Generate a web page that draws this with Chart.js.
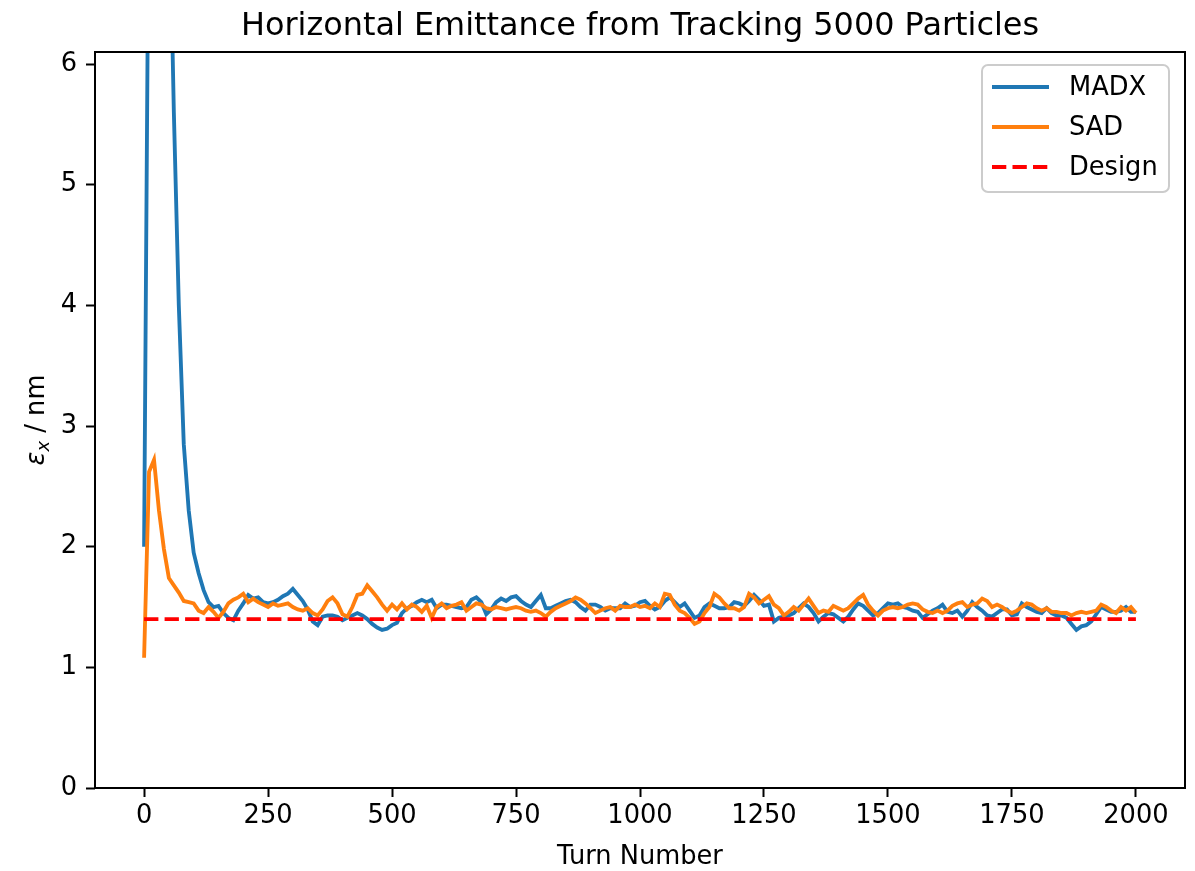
<!DOCTYPE html>
<html><head><meta charset="utf-8">
<script src="https://cdn.jsdelivr.net/npm/chart.js@4.4.1/dist/chart.umd.min.js"></script>
<style>html,body{margin:0;padding:0;background:#fff;}canvas{display:block;}</style>
</head><body>
<canvas id="c" width="1195" height="871"></canvas>
<script>
const turns = [
0,10,20,30,40,50,60,70,80,90,
100,110,120,130,140,150,160,170,180,190,
200,210,220,230,240,250,260,270,280,290,
300,310,320,330,340,350,360,370,380,390,
400,410,420,430,440,450,460,470,480,490,
500,510,520,530,540,550,560,570,580,590,
600,610,620,630,640,650,660,670,680,690,
700,710,720,730,740,750,760,770,780,790,
800,810,820,830,840,850,860,870,880,890,
900,910,920,930,940,950,960,970,980,990,
1000,1010,1020,1030,1040,1050,1060,1070,1080,1090,
1100,1110,1120,1130,1140,1150,1160,1170,1180,1190,
1200,1210,1220,1230,1240,1250,1260,1270,1280,1290,
1300,1310,1320,1330,1340,1350,1360,1370,1380,1390,
1400,1410,1420,1430,1440,1450,1460,1470,1480,1490,
1500,1510,1520,1530,1540,1550,1560,1570,1580,1590,
1600,1610,1620,1630,1640,1650,1660,1670,1680,1690,
1700,1710,1720,1730,1740,1750,1760,1770,1780,1790,
1800,1810,1820,1830,1840,1850,1860,1870,1880,1890,
1900,1910,1920,1930,1940,1950,1960,1970,1980,1990,
2000];

const madx = [
2.00,7.90,14.0,13.0,10.5,7.60,5.60,4.00,2.85,2.30,
1.95,1.78,1.64,1.54,1.50,1.51,1.45,1.41,1.39,1.47,
1.53,1.60,1.57,1.58,1.54,1.53,1.54,1.56,1.59,1.61,
1.65,1.60,1.55,1.48,1.38,1.35,1.42,1.43,1.43,1.42,
1.39,1.41,1.43,1.45,1.43,1.40,1.36,1.33,1.31,1.32,
1.35,1.37,1.45,1.49,1.51,1.54,1.56,1.54,1.56,1.49,
1.52,1.52,1.51,1.50,1.49,1.50,1.56,1.58,1.54,1.44,
1.48,1.54,1.57,1.55,1.58,1.59,1.55,1.52,1.50,1.55,
1.60,1.49,1.49,1.51,1.53,1.55,1.56,1.54,1.50,1.47,
1.52,1.52,1.50,1.47,1.49,1.49,1.49,1.53,1.50,1.51,
1.54,1.55,1.51,1.48,1.50,1.55,1.58,1.54,1.50,1.53,
1.47,1.41,1.43,1.50,1.53,1.51,1.49,1.49,1.50,1.54,
1.53,1.51,1.55,1.60,1.56,1.51,1.52,1.38,1.41,1.42,
1.43,1.45,1.49,1.53,1.50,1.45,1.38,1.42,1.45,1.44,
1.41,1.38,1.42,1.48,1.53,1.51,1.47,1.43,1.45,1.49,
1.53,1.52,1.53,1.50,1.49,1.47,1.46,1.41,1.44,1.47,
1.49,1.52,1.46,1.45,1.47,1.42,1.47,1.54,1.50,1.47,
1.43,1.42,1.45,1.48,1.48,1.43,1.44,1.53,1.50,1.48,
1.46,1.45,1.49,1.45,1.43,1.43,1.41,1.36,1.31,1.34,
1.35,1.38,1.44,1.50,1.48,1.46,1.46,1.47,1.50,1.46,
1.46];

const sad = [
1.08,2.62,2.72,2.30,1.98,1.74,1.68,1.62,1.55,1.54,
1.53,1.47,1.45,1.50,1.46,1.41,1.46,1.53,1.56,1.58,
1.61,1.54,1.57,1.54,1.52,1.50,1.53,1.51,1.52,1.53,
1.50,1.48,1.47,1.49,1.45,1.43,1.48,1.55,1.58,1.53,
1.44,1.42,1.50,1.60,1.61,1.68,1.63,1.58,1.52,1.47,
1.52,1.48,1.53,1.48,1.52,1.50,1.46,1.51,1.41,1.50,
1.53,1.49,1.51,1.52,1.54,1.47,1.50,1.53,1.52,1.49,
1.48,1.50,1.49,1.48,1.49,1.50,1.49,1.47,1.46,1.47,
1.45,1.42,1.46,1.49,1.51,1.53,1.55,1.58,1.56,1.53,
1.49,1.45,1.47,1.49,1.50,1.47,1.51,1.50,1.50,1.52,
1.50,1.51,1.49,1.53,1.50,1.61,1.60,1.52,1.47,1.45,
1.41,1.36,1.38,1.45,1.50,1.61,1.58,1.53,1.49,1.49,
1.47,1.50,1.61,1.58,1.53,1.56,1.59,1.52,1.49,1.43,
1.46,1.50,1.47,1.52,1.57,1.51,1.45,1.47,1.46,1.51,
1.49,1.47,1.49,1.53,1.57,1.60,1.52,1.47,1.43,1.47,
1.49,1.50,1.49,1.50,1.52,1.53,1.52,1.48,1.46,1.45,
1.47,1.45,1.47,1.51,1.53,1.54,1.50,1.52,1.53,1.57,
1.55,1.50,1.52,1.50,1.47,1.45,1.47,1.50,1.53,1.52,
1.49,1.47,1.49,1.46,1.46,1.45,1.45,1.43,1.45,1.46,
1.45,1.46,1.47,1.52,1.50,1.47,1.45,1.50,1.47,1.50,
1.45];

const designTurns = [0, 2000];
const designValues = [1.4, 1.4];

const xTicks = [0,250,500,750,1000,1250,1500,1750,2000];
const xTickLabels = ['0','250','500','750','1000','1250','1500','1750','2000'];
const yTicks = [0,1,2,3,4,5,6];
const yTickLabels = ['0','1','2','3','4','5','6'];
const seriesNames = ['MADX','SAD','Design'];
const titleText = 'Horizontal Emittance from Tracking 5000 Particles';
const xLabel = 'Turn Number';

const FONT = '"DejaVu Sans", sans-serif';
const TICK_SIZE = 25.7;
const pts = (xs, ys) => xs.map((x, i) => ({x: x, y: ys[i]}));

const decor = {
  id: 'decor',
  afterDraw(chart) {
    const ctx = chart.ctx, a = chart.chartArea;
    ctx.save();
    ctx.strokeStyle = '#000'; ctx.lineWidth = 2; ctx.setLineDash([]);
    ctx.strokeRect(a.left, a.top, a.right - a.left, a.bottom - a.top);
    ctx.fillStyle = '#000';
    ctx.font = '31.9px ' + FONT;
    ctx.textAlign = 'center'; ctx.textBaseline = 'alphabetic';
    ctx.fillText(titleText, (a.left + a.right) / 2, 35);
    ctx.font = TICK_SIZE + 'px ' + FONT;
    ctx.fillText(xLabel, (a.left + a.right) / 2, 864);
    ctx.save();
    ctx.translate(44, (a.top + a.bottom) / 2);
    ctx.rotate(-Math.PI / 2);
    ctx.textAlign = 'left'; ctx.textBaseline = 'alphabetic';
    const f1 = 'italic ' + TICK_SIZE + 'px ' + FONT;
    const f2 = 'italic 18px ' + FONT;
    const f3 = TICK_SIZE + 'px ' + FONT;
    ctx.font = f1; const w1 = ctx.measureText('ε').width;
    ctx.font = f2; const w2 = ctx.measureText('x').width;
    ctx.font = f3; const w3 = ctx.measureText(' / nm').width;
    let x0 = -(w1 + w2 + w3) / 2;
    ctx.font = f1; ctx.fillText('ε', x0, 0); x0 += w1;
    ctx.font = f2; ctx.fillText('x', x0, 5); x0 += w2;
    ctx.font = f3; ctx.fillText(' / nm', x0, 0);
    ctx.restore();
    const lx = 982, ly = 65, lw = 187, lh = 127, r = 6;
    ctx.beginPath();
    ctx.moveTo(lx + r, ly);
    ctx.arcTo(lx + lw, ly, lx + lw, ly + lh, r);
    ctx.arcTo(lx + lw, ly + lh, lx, ly + lh, r);
    ctx.arcTo(lx, ly + lh, lx, ly, r);
    ctx.arcTo(lx, ly, lx + lw, ly, r);
    ctx.closePath();
    ctx.fillStyle = 'rgba(255,255,255,0.8)'; ctx.fill();
    ctx.strokeStyle = '#cccccc'; ctx.lineWidth = 2; ctx.stroke();
    const dsets = chart.data.datasets;
    ctx.font = TICK_SIZE + 'px ' + FONT;
    ctx.textBaseline = 'middle'; ctx.textAlign = 'left';
    dsets.forEach((ds, i) => {
      const yy = 87 + i * 40;
      ctx.strokeStyle = ds.borderColor; ctx.lineWidth = ds.borderWidth;
      ctx.setLineDash(ds.borderDash || []);
      ctx.lineCap = 'butt';
      ctx.beginPath(); ctx.moveTo(992, yy); ctx.lineTo(1049, yy); ctx.stroke();
      ctx.setLineDash([]);
      ctx.fillStyle = '#000';
      ctx.fillText(ds.label, 1069, yy + 1);
    });
    ctx.restore();
  }
};

new Chart(document.getElementById('c'), {
  type: 'line',
  data: {
    datasets: [
      {label: seriesNames[0], data: pts(turns, madx), borderColor: '#1f77b4', borderWidth: 3.85, pointRadius: 0, tension: 0, order: 3},
      {label: seriesNames[1], data: pts(turns, sad), borderColor: '#ff7f0e', borderWidth: 3.85, pointRadius: 0, tension: 0, order: 2},
      {label: seriesNames[2], data: pts(designTurns, designValues), borderColor: '#ff0000', borderWidth: 3.85, borderDash: [14.3, 6.2], pointRadius: 0, tension: 0, order: 1}
    ]
  },
  options: {
    responsive: false,
    animation: false,
    devicePixelRatio: 1,
    layout: {padding: {top: 52, right: 10, left: 0, bottom: 0}},
    plugins: {legend: {display: false}, title: {display: false}, tooltip: {enabled: false}},
    scales: {
      x: {
        type: 'linear', min: -99, max: 2099,
        afterBuildTicks: (s) => { s.ticks = xTicks.map(v => ({value: v})); },
        afterFit: (s) => { s.height = 83; },
        grid: {drawOnChartArea: false, drawTicks: true, tickLength: 9, tickWidth: 2, tickColor: '#000'},
        border: {display: false},
        ticks: {color: '#000', font: {family: 'DejaVu Sans', size: TICK_SIZE}, padding: 4, maxRotation: 0, autoSkip: false,
          callback: (v) => { const k = xTicks.indexOf(v); return k >= 0 ? xTickLabels[k] : ''; }},
        title: {display: false}
      },
      y: {
        type: 'linear', min: 0, max: 6.1,
        afterBuildTicks: (s) => { s.ticks = yTicks.map(v => ({value: v})); },
        afterFit: (s) => { s.width = 95; },
        grid: {drawOnChartArea: false, drawTicks: true, tickLength: 9, tickWidth: 2, tickColor: '#000'},
        border: {display: false},
        ticks: {color: '#000', font: {family: 'DejaVu Sans', size: TICK_SIZE}, padding: 9, autoSkip: false,
          callback: (v) => { const k = yTicks.indexOf(v); return k >= 0 ? yTickLabels[k] : ''; }}
      }
    }
  },
  plugins: [decor]
});
</script>
</body></html>
